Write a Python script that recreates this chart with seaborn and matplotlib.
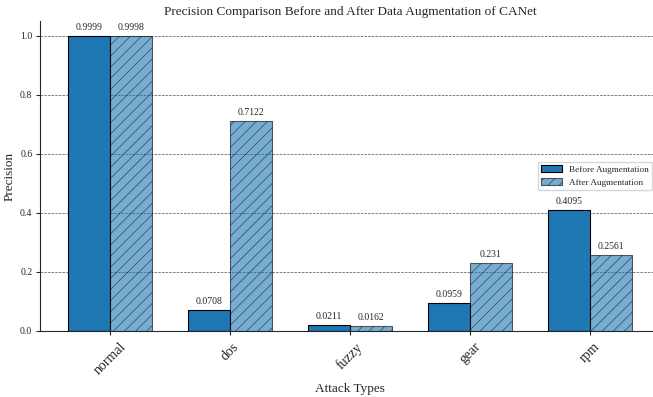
import matplotlib
matplotlib.use("Agg")
import matplotlib.pyplot as plt
import seaborn as sns
import pandas as pd

categories = ["normal", "dos", "fuzzy", "gear", "rpm"]
before_aug = [0.9999, 0.0708, 0.0211, 0.0959, 0.4095]
after_aug = [0.9998, 0.7122, 0.0162, 0.231, 0.2561]
series_names = ["Before Augmentation", "After Augmentation"]

sns.set_style("white")
plt.rcParams["font.family"] = ["Liberation Serif", "DejaVu Serif"]
plt.rcParams["hatch.linewidth"] = 0.5

df = pd.DataFrame({
    "Attack": categories * 2,
    "Precision": before_aug + after_aug,
    "Stage": [series_names[0]] * len(categories) + [series_names[1]] * len(categories),
})

fig = plt.figure(figsize=(6.53, 3.97), dpi=100)
ax = fig.add_axes([40 / 653, 1 - 331 / 397, 620 / 653, 310 / 397])

base = "#1f77b4"
sns.barplot(data=df, x="Attack", y="Precision", hue="Stage", order=categories,
            hue_order=series_names, palette=[base, base], width=0.7,
            edgecolor="black", linewidth=0.8, saturation=1, errorbar=None, ax=ax)

n = len(categories)
bars = ax.patches[:2 * n]
for i, p in enumerate(bars):
    if i >= n:
        p.set_alpha(0.6)
        p.set_edgecolor((0, 0, 0, 1))
        p.set_hatch("///")
    h = p.get_height()
    ax.annotate(f"{h:g}", (p.get_x() + p.get_width() / 2, h),
                xytext=(0, 3), textcoords="offset points",
                ha="center", va="bottom", fontsize=7)

ax.set_xlim(-0.585, 4.585)
ax.set_ylim(0, 1.05)
ax.set_yticks([0.0, 0.2, 0.4, 0.6, 0.8, 1.0])
ax.tick_params(axis="y", labelsize=7, left=True, length=3, pad=2.5)
ax.tick_params(axis="x", labelsize=10, bottom=True, length=3)
plt.setp(ax.get_xticklabels(), rotation=45)
ax.yaxis.grid(True, linestyle="--", linewidth=0.5, color="black", alpha=0.7)
ax.set_axisbelow(True)
sns.despine(ax=ax)
ax.set_xlabel("Attack Types", fontsize=9.5)
ax.set_ylabel("Precision", fontsize=9.5, labelpad=3)
ax.set_title("Precision Comparison Before and After Data Augmentation of CANet",
             fontsize=9.5, pad=4)

leg = ax.legend(loc="center right", fontsize=6.6, frameon=True,
                bbox_to_anchor=(0.995, 0.5), handlelength=2.2)
leg.get_frame().set_edgecolor("#cccccc")
handles = leg.legend_handles
handles[1].set_alpha(0.6)
handles[1].set_hatch("///")
handles[1].set_edgecolor("black")
handles[0].set_edgecolor("black")

fig.savefig("out.png", dpi=100)
